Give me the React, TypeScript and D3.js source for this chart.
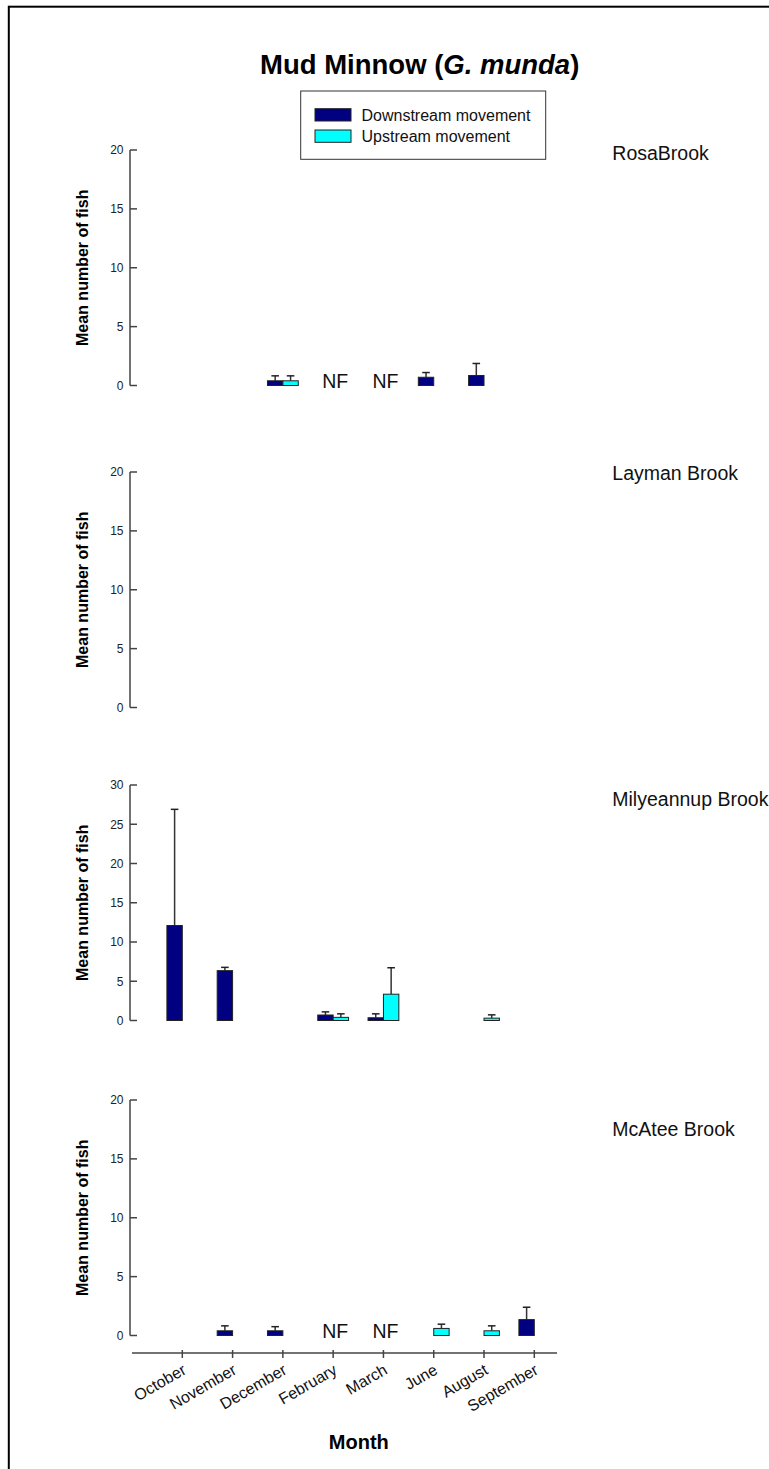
import React from "react";
import * as d3 from "d3";

const months = ["October", "November", "December", "February", "March", "June", "August", "September"];
const brooks = ["RosaBrook", "Layman Brook", "Milyeannup Brook", "McAtee Brook"];
const yMaxes = [20, 20, 30, 20];

// mean values (null = no bar)
const rosaDown = [null, null, 0.4, null, null, 0.7, 0.85, null];
const rosaDownErr = [null, null, 0.42, null, null, 0.4, 1.02, null];
const rosaUp = [null, null, 0.4, null, null, null, null, null];
const rosaUpErr = [null, null, 0.42, null, null, null, null, null];

const laymanDown = [null, null, null, null, null, null, null, null];
const laymanDownErr = [null, null, null, null, null, null, null, null];
const laymanUp = [null, null, null, null, null, null, null, null];
const laymanUpErr = [null, null, null, null, null, null, null, null];

const milyDown = [12.1, 6.35, null, 0.7, 0.35, null, null, null];
const milyDownErr = [14.8, 0.42, null, 0.4, 0.5, null, null, null];
const milyUp = [null, null, null, 0.4, 3.35, null, 0.3, null];
const milyUpErr = [null, null, null, 0.45, 3.37, null, 0.42, null];

const mcateeDown = [null, 0.4, 0.4, null, null, null, null, 1.35];
const mcateeDownErr = [null, 0.42, 0.35, null, null, null, null, 1.05];
const mcateeUp = [null, null, null, null, null, 0.6, 0.4, null];
const mcateeUpErr = [null, null, null, null, null, 0.36, 0.42, null];

const nfMonths = [["February", "March"], [], [], ["February", "March"]];

const seriesNames = ["Downstream movement", "Upstream movement"];
const seriesColors = ["#000080", "#00FFFF"];

const panelData = [
  { down: rosaDown, downErr: rosaDownErr, up: rosaUp, upErr: rosaUpErr },
  { down: laymanDown, downErr: laymanDownErr, up: laymanUp, upErr: laymanUpErr },
  { down: milyDown, downErr: milyDownErr, up: milyUp, upErr: milyUpErr },
  { down: mcateeDown, downErr: mcateeDownErr, up: mcateeUp, upErr: mcateeUpErr },
];

const W = 769;
const H = 1469;
const panelTops = [150, 472, 785, 1100];
const panelH = 235.5;
const axisX = 130;
const xAxisY = 1353;
const barW = 15.4;
const font = "Arial, 'Liberation Sans', Helvetica, sans-serif";

export default function App() {
  const x = d3.scalePoint<string>().domain(months).range([182.3, 534.3]);
  const axisColor = "#444";

  return (
    <svg
      width={W}
      height={H}
      style={{ position: "absolute", left: 0, top: 0, background: "#fff" }}
      fontFamily={font}
    >
      <rect x={0} y={0} width={W} height={H} fill="#fff" />
      <rect x={8.8} y={6.7} width={W + 50} height={H + 50} fill="none" stroke="#000" strokeWidth={2} />

      {/* title */}
      <text x={419.7} y={73.5} textAnchor="middle" fontSize={27.5} fontWeight="bold" fill="#000">
        Mud Minnow (<tspan fontStyle="italic">G. munda</tspan>)
      </text>

      {/* legend */}
      <rect x={300.7} y={91} width={245} height={68.3} fill="#fff" stroke="#333" strokeWidth={1} />
      {seriesNames.map((s, i) => (
        <g key={s}>
          <rect x={315} y={108.7 + i * 21.3} width={36} height={12.3} fill={seriesColors[i]} stroke="#222" strokeWidth={1} />
          <text x={361.5} y={120.7 + i * 21} fontSize={16} fill="#111">
            {s}
          </text>
        </g>
      ))}

      {panelData.map((pd, pi) => {
        const top = panelTops[pi];
        const y = d3.scaleLinear().domain([0, yMaxes[pi]]).range([top + panelH, top]);
        const ticks = d3.range(0, yMaxes[pi] + 0.001, 5);
        const bars: { key: string; x0: number; v: number; e: number | null; color: string }[] = [];
        months.forEach((m, mi) => {
          const cx = x(m) as number;
          const dv = pd.down[mi];
          if (dv != null) bars.push({ key: "d" + mi, x0: cx - barW, v: dv, e: pd.downErr[mi], color: seriesColors[0] });
          const uv = pd.up[mi];
          if (uv != null) bars.push({ key: "u" + mi, x0: cx, v: uv, e: pd.upErr[mi], color: seriesColors[1] });
        });
        return (
          <g key={pi}>
            {/* y axis */}
            <line x1={axisX} x2={axisX} y1={y(yMaxes[pi])} y2={y(0)} stroke={axisColor} strokeWidth={1.5} />
            {ticks.map((t) => (
              <g key={t}>
                <line x1={axisX} x2={axisX + 7} y1={y(t)} y2={y(t)} stroke={axisColor} strokeWidth={1.5} />
                <text x={123.5} y={y(t) + 4.3} textAnchor="end" fontSize={12} fill="#222">
                  {t}
                </text>
              </g>
            ))}
            <text
              transform={`translate(88.3,${top + panelH / 2}) rotate(-90)`}
              textAnchor="middle"
              fontSize={16}
              fontWeight="bold"
              fill="#000"
            >
              Mean number of fish
            </text>
            <text x={612.3} y={[160, 480, 805.7, 1136][pi]} fontSize={19.5} fill="#111">
              {brooks[pi]}
            </text>
            {/* error bars */}
            {bars.map((b) =>
              b.e != null ? (
                <g key={"e" + b.key}>
                  <line x1={b.x0 + barW / 2} x2={b.x0 + barW / 2} y1={y(b.v)} y2={y(b.v + b.e)} stroke="#333" strokeWidth={1.5} />
                  <line x1={b.x0 + barW / 2 - 3.8} x2={b.x0 + barW / 2 + 3.8} y1={y(b.v + b.e)} y2={y(b.v + b.e)} stroke="#222" strokeWidth={1.5} />
                </g>
              ) : null
            )}
            {bars.map((b) => (
              <rect
                key={b.key}
                x={b.x0}
                y={y(b.v)}
                width={barW}
                height={y(0) - y(b.v)}
                fill={b.color}
                stroke="#222"
                strokeWidth={1}
              />
            ))}
            {nfMonths[pi].map((m) => (
              <text key={m} x={(x(m) as number) + 2} y={y(0) + 2.5} textAnchor="middle" fontSize={19.5} fill="#111">
                NF
              </text>
            ))}
          </g>
        );
      })}

      {/* x axis */}
      <line x1={132} x2={557} y1={xAxisY} y2={xAxisY} stroke={axisColor} strokeWidth={1.5} />
      {months.map((m) => (
        <g key={m}>
          <line x1={x(m) as number} x2={x(m) as number} y1={xAxisY - 3} y2={xAxisY + 5} stroke={axisColor} strokeWidth={1.5} />
          <text
            transform={`translate(${(x(m) as number) + 5},${xAxisY + 20}) rotate(-30)`}
            textAnchor="end"
            fontSize={16}
            fill="#111"
          >
            {m}
          </text>
        </g>
      ))}
      <text x={358.8} y={1449.3} textAnchor="middle" fontSize={20} fontWeight="bold" fill="#000">
        Month
      </text>
    </svg>
  );
}
